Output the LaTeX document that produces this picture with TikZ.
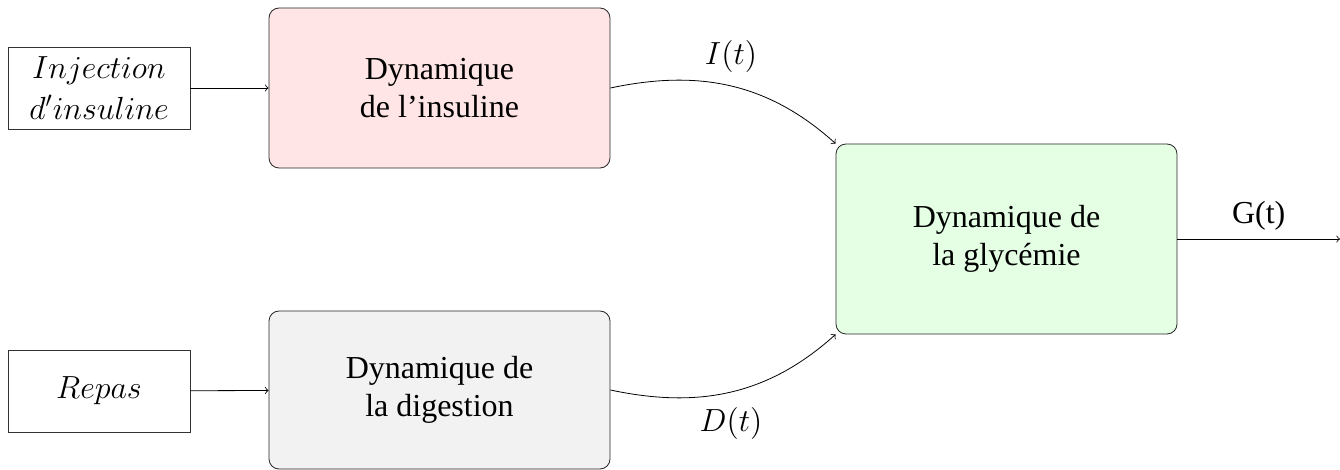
\documentclass[tikz,border=0pt]{standalone}
\usepackage{fix-cm}
\usepackage{fontspec}
\setmainfont{Liberation Serif}
\usetikzlibrary{arrows}
\begin{document}
\begin{tikzpicture}[x=0.5pt,y=-0.5pt,
  every node/.style={font=\fontsize{16}{19.2}\selectfont},
  inbox/.style={draw=black!80, fill=white, minimum width=91pt, minimum height=41pt, inner sep=0pt, align=center},
  dynbox/.style={draw=black!85, rounded corners=5pt, minimum width=170.5pt, inner sep=0pt, align=center},
  conn/.style={draw=black, ->, >=to}]
\useasboundingbox (0,0) rectangle (1340,470);
\node[inbox] (inj) at (99,88) {$Injection$\\[1pt]$d'insuline$};
\node[inbox] (rep) at (99,391) {$Repas$};
\node[dynbox, fill=red!10, minimum height=80pt] (ins) at (439.5,88) {Dynamique\\de l'insuline};
\node[dynbox, fill=gray!10, minimum height=79pt] (dig) at (439.5,390) {Dynamique de\\la digestion};
\node[dynbox, fill=green!10, minimum height=95pt] (gly) at (1006.5,239) {Dynamique de\\la glycémie};
\coordinate (out) at (1340,239);
\draw[conn] (inj) -- (ins);
\draw[conn] (rep) -- (dig);
\draw[conn] (ins.east) to[out=12,in=138] node[pos=0.5, above=3pt] (il) {$I(t)$} (gly.north west);
\draw[conn] (dig.east) to[out=-12,in=-138] node[pos=0.5, below=4pt] (dl) {$D(t)$} (gly.south west);
\draw[conn] (gly.east |- out) -- node[above=1pt] (gl) {G(t)} (out);
\end{tikzpicture}
\end{document}
